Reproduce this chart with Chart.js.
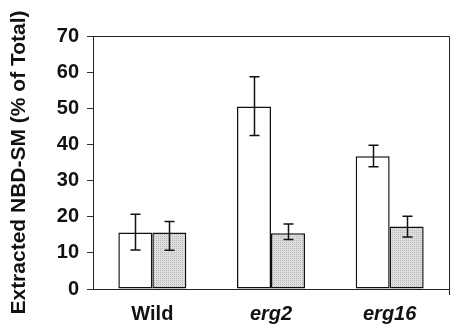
<!DOCTYPE html>
<html>
<head>
<meta charset="utf-8">
<script src="https://cdn.jsdelivr.net/npm/chart.js@4"></script>
<style>
html,body{margin:0;padding:0;background:#fff;}
#wrap{width:458px;height:330px;position:relative;}
</style>
</head>
<body>
<div id="wrap"><canvas id="c" width="458" height="330"></canvas></div>
<script>
const categories = ['Wild', 'erg2', 'erg16'];
const whiteValues = [15.6, 50.5, 36.7];
const whiteErrHigh = [20.7, 58.7, 39.8];
const whiteErrLow = [10.8, 42.5, 33.8];
const grayValues = [15.6, 15.4, 17.3];
const grayErrHigh = [18.7, 18.0, 20.1];
const grayErrLow = [10.7, 13.7, 14.4];
const yTicks = [0, 10, 20, 30, 40, 50, 60, 70];

function makePattern() {
  const pc = document.createElement('canvas');
  pc.width = 2; pc.height = 2;
  const g = pc.getContext('2d');
  g.fillStyle = '#dedede'; g.fillRect(0, 0, 2, 2);
  g.fillStyle = '#bababa'; g.fillRect(0, 0, 1, 1);
  return g.createPattern(pc, 'repeat');
}
const grayFill = makePattern();

const errorBars = {
  id: 'errorBars',
  afterDatasetsDraw(chart) {
    const ctx = chart.ctx;
    const y = chart.scales.y;
    const errs = [[whiteErrHigh, whiteErrLow], [grayErrHigh, grayErrLow]];
    ctx.save();
    ctx.strokeStyle = '#111';
    ctx.lineWidth = 1.5;
    chart.data.datasets.forEach((ds, di) => {
      const meta = chart.getDatasetMeta(di);
      meta.data.forEach((bar, i) => {
        const x = Math.round(bar.x) + 0.5;
        const hi = y.getPixelForValue(errs[di][0][i]);
        const lo = y.getPixelForValue(errs[di][1][i]);
        ctx.beginPath();
        ctx.moveTo(x, hi); ctx.lineTo(x, lo);
        ctx.moveTo(x - 5, hi); ctx.lineTo(x + 5, hi);
        ctx.moveTo(x - 5, lo); ctx.lineTo(x + 5, lo);
        ctx.stroke();
      });
    });
    ctx.restore();
  }
};

const frame = {
  id: 'frame',
  afterDraw(chart) {
    const a = chart.chartArea;
    const ctx = chart.ctx;
    ctx.save();
    ctx.strokeStyle = '#222';
    ctx.lineWidth = 1;
    ctx.beginPath();
    ctx.moveTo(a.left, a.top + 0.5);
    ctx.lineTo(a.right + 0.5, a.top + 0.5);
    ctx.lineTo(a.right + 0.5, a.bottom + 6);
    ctx.stroke();
    ctx.restore();
  }
};

const FAM = '"Liberation Sans", Arial, sans-serif';

new Chart(document.getElementById('c'), {
  type: 'bar',
  data: {
    labels: categories,
    datasets: [
      { data: whiteValues, backgroundColor: '#ffffff', borderColor: '#111', borderWidth: 1.5, borderSkipped: false },
      { data: grayValues, backgroundColor: grayFill, borderColor: '#111', borderWidth: 1.5, borderSkipped: false }
    ]
  },
  options: {
    responsive: false,
    animation: false,
    devicePixelRatio: 1,
    layout: { padding: { top: 36, right: 9, left: 0, bottom: 0 } },
    datasets: { bar: { categoryPercentage: 0.573, barPercentage: 1.0 } },
    plugins: { legend: { display: false }, tooltip: { enabled: false } },
    scales: {
      x: {
        offset: true,
        grid: { display: false },
        border: { display: true, color: '#222', width: 1 },
        ticks: {
          color: '#111',
          padding: 5,
          font: (c) => ({ family: FAM, size: 20, weight: 'bold', style: c.index === 0 ? 'normal' : 'italic' })
        },
        afterFit(s) { s.height = 41; }
      },
      y: {
        min: 0, max: 70,
        afterBuildTicks(s) { s.ticks = yTicks.map(v => ({ value: v })); },
        grid: { display: true, drawOnChartArea: false, drawTicks: true, tickLength: 6, color: '#333' },
        border: { display: true, color: '#222', width: 1 },
        ticks: { color: '#111', padding: 8, font: { family: FAM, size: 20, weight: 'bold' } },
        title: {
          display: true,
          text: 'Extracted NBD-SM (% of Total)',
          color: '#111',
          font: { family: FAM, size: 21, weight: 'bold' },
          padding: { top: 7, bottom: 4 }
        },
        afterFit(s) { s.width = 93; }
      }
    }
  },
  plugins: [errorBars, frame]
});
</script>
</body>
</html>
